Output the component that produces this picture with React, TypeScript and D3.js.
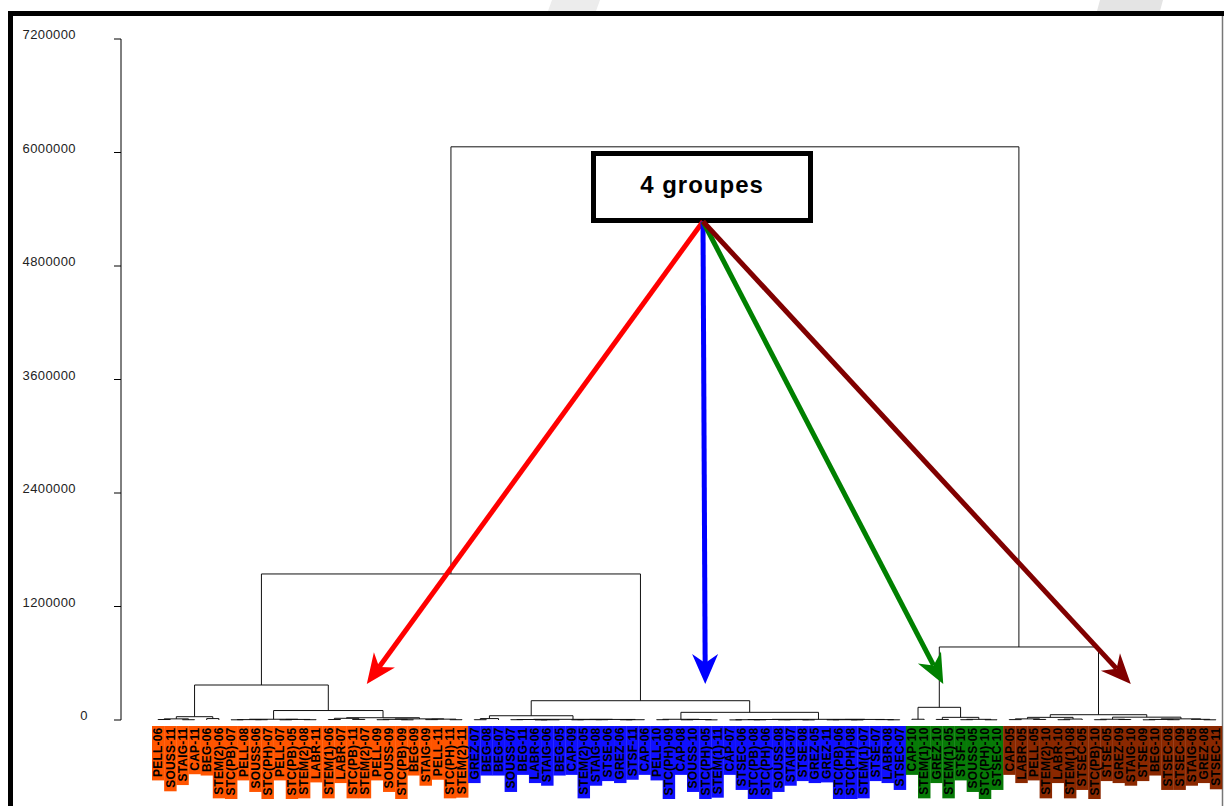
import React from "react";
import * as d3 from "d3";

// leaf names, left to right, one list per group
const orangeLeaves = [
  "PELL-06", "SOUSS-11", "STAIG-11", "CAP-11", "BEG-06", "STEM(2)-06", "STC(PB)-07",
  "PELL-08", "SOUSS-06", "STC(PH)-07", "PELL-07", "STC(PB)-05", "STEM(2)-08", "LABR-11",
  "STEM(1)-06", "LABR-07", "STC(PB)-11", "STEM(2)-07", "PELL-09", "SOUSS-09", "STC(PB)-09",
  "BEG-09", "STAIG-09", "PELL-11", "STC(PH)-11", "STEM(2)-11",
];
const blueLeaves = [
  "GREZ-07", "BEG-08", "BEG-07", "SOUSS-07", "BEG-11", "LABR-06", "STAIG-06", "BEG-05",
  "CAP-09", "STEM(2)-05", "STAIG-08", "STSE-06", "GREZ-06", "STSF-11", "CAP-06", "PELL-10",
  "STC(PH)-09", "CAP-08", "SOUSS-10", "STC(PH)-05", "STEM(1)-11", "CAP-07", "STSEC-06",
  "STC(PB)-08", "STC(PH)-06", "SOUSS-08", "STAIG-07", "STSE-08", "GREZ-05", "GREZ-11",
  "STC(PB)-06", "STC(PH)-08", "STEM(1)-07", "STSE-07", "LABR-08", "STSEC-07",
];
const greenLeaves = [
  "CAP-10", "STEM(1)-10", "GREZ-10", "STEM(1)-05", "STSF-10", "SOUSS-05", "STC(PH)-10", "STSEC-10",
];
const brownLeaves = [
  "CAP-05", "LABR-05", "PELL-05", "STEM(2)-10", "LABR-10", "STEM(1)-08", "STSEC-05",
  "STC(PB)-10", "STSE-05", "GREZ-09", "STAIG-10", "STSE-09", "BEG-10", "STSEC-08",
  "STSEC-09", "STAIG-05", "GREZ-08", "STSEC-11",
];

const groupFills = ["#ff5500", "#1010ff", "#077a07", "#8a2800"];

const yTicks = [0, 1200000, 2400000, 3600000, 4800000, 6000000, 7200000];

// merges: [height, left, right]; numbers index into the group's leaf list
const orangeMerges = [370000,
  [35000, [12000, [5000, 0, 1], [3000, 2, 3]], [15000, 4, 5]],
  [100000,
    [8000, [4000, [2000, 6, 7], [3000, 8, 9]], [6000, [2000, 10, 11], [3000, 12, 13]]],
    [24000, [18000, [5000, 14, 15], [6000, 16, 17]],
      [12000, [7000, [3000, 18, 19], [2000, 20, 21]], [9000, [4000, 22, 23], [3000, 24, 25]]]]]];
const blueMerges = [204000,
  [45000, [15000, [3000, 0, 1], 2],
    [7000, [5000, [3000, 3, 4], [2000, [1000, 5, 6], 7]],
      [6000, [4000, [2000, 8, 9], [3000, 10, 11]], [3000, [2000, 12, 13], 14]]]],
  [81000, [7500, [3000, 15, 16], [5000, [2000, 17, 18], [1500, 19, 20]]],
    [7000, [5000, [3000, [1000, 21, 22], [2000, 23, 24]], [4000, [2000, 25, 26], [1000, 27, 28]]],
      [6000, [3000, [2000, 29, 30], [1000, 31, 32]], [4000, 33, [2000, 34, 35]]]]]];
const greenMerges = [134000,
  [8000, 0, 1],
  [28000, [6000, 2, 3], [7000, [3000, 4, 5], [2000, 6, 7]]]];
const brownMerges = [56000,
  [28000, [12000, [4000, 0, 1], [6000, 2, 3]], [10000, [3000, 4, 5], 6]],
  [30000, [8000, [3000, 7, 8], [5000, 9, 10]],
    [12000, [6000, [2000, 11, 12], [3000, 13, 14]], [7000, 15, [2000, 16, 17]]]]];

// upper merges: root, orange+blue, green+brown
const upperHeights = [6060000, 1544000, 772000];

// arrows from the caption box to a leaf at a given height
const arrows = [
  { color: "#ff0000", leaf: "STEM(2)-07", value: 380000, dx: 2 },
  { color: "#0000ff", leaf: "STC(PH)-05", value: 380000, dx: 0 },
  { color: "#008000", leaf: "GREZ-10", value: 380000, dx: 7 },
  { color: "#800000", leaf: "STAIG-10", value: 380000, dx: 0 },
];

const W = 1225;
const H = 806;
const axisX = 121;
const labelTop = 726;
const LS = 0.2;
const labelFont = "bold 12px 'Liberation Sans', Arial, sans-serif";

const ctx = document.createElement("canvas").getContext("2d");
function textLen(s) {
  if (!ctx) return s.length * 7;
  ctx.font = labelFont;
  return ctx.measureText(s).width + s.length * LS;
}

function named(node, names) {
  return Array.isArray(node)
    ? [node[0], named(node[1], names), named(node[2], names)]
    : names[node];
}

const groups = [orangeLeaves, blueLeaves, greenLeaves, brownLeaves];
const allLeaves = groups.flat();
const tree = [upperHeights[0],
  [upperHeights[1], named(orangeMerges, orangeLeaves), named(blueMerges, blueLeaves)],
  [upperHeights[2], named(greenMerges, greenLeaves), named(brownMerges, brownLeaves)]];

export default function App() {
  const x = d3.scaleBand().domain(allLeaves).range([152, 1222]).padding(0);
  const y = d3.scaleLinear().domain([0, 7200000]).range([720, 39]);
  const bw = x.bandwidth();

  const root = d3.hierarchy(tree, (d) => (Array.isArray(d) ? d.slice(1) : null));
  root.eachAfter((n) => {
    if (!n.children) {
      n.px = x(n.data) + bw / 2;
      n.h = 0;
    } else {
      n.px = d3.mean(n.children, (c) => c.px);
      n.h = n.data[0];
    }
  });
  const links = root.descendants().filter((n) => n.children).map((n) => {
    const [a, b] = n.children;
    return `M${a.px},${y(a.h)}V${y(n.h)}H${b.px}V${y(b.h)}`;
  });

  const box = { x: 593.5, y: 153.5, w: 217, h: 67 };
  const ox = box.x + box.w / 2 + 1;
  const oy = box.y + box.h + 1;

  const arrowShapes = arrows.map((a) => {
    const tx = x(a.leaf) + bw / 2 + a.dx;
    const ty = y(a.value);
    const dx = tx - ox, dy = ty - oy;
    const len = Math.hypot(dx, dy);
    const ux = dx / len, uy = dy / len;
    const nx = -uy, ny = ux;
    const L = 30, Wd = 13, notch = 21;
    const bx = tx - ux * L, by = ty - uy * L;
    const head = [
      [tx, ty],
      [bx + nx * Wd, by + ny * Wd],
      [tx - ux * notch, ty - uy * notch],
      [bx - nx * Wd, by - ny * Wd],
    ];
    return { ...a, x1: tx - ux * notch, y1: ty - uy * notch, head };
  });

  return (
    <svg width={W} height={H} style={{ position: "absolute", left: 0, top: 0, background: "#fff" }}>
      <polygon points="1100,0 1163,0 1160,11 1097,11" fill="#e4e4e4" />
      <polygon points="552,0 600,0 596,11 548,11" fill="#ececec" />
      {/* frame */}
      <line x1={8} x2={1224} y1={13.5} y2={13.5} stroke="#000" strokeWidth={5} />
      <line x1={10.5} x2={10.5} y1={11} y2={H} stroke="#000" strokeWidth={5} />
      <line x1={1222.5} x2={1222.5} y1={16} y2={H} stroke="#777" strokeWidth={1.5} />

      {/* y axis */}
      <line x1={axisX} x2={axisX} y1={y(7200000)} y2={y(0)} stroke="#000" />
      {yTicks.map((t) => (
        <g key={t}>
          <line x1={axisX - 7} x2={axisX} y1={y(t)} y2={y(t)} stroke="#000" />
          <text x={t === 0 ? 88 : 76} y={y(t)} textAnchor="end" fontSize={13} letterSpacing={0.4}
            fontFamily="'Liberation Sans', Arial, sans-serif" fill="#222">
            {t}
          </text>
        </g>
      ))}

      {/* leaf labels */}
      {groups.map((g, gi) =>
        g.map((name) => (
          <rect key={name} x={x(name)} y={labelTop} width={bw + 0.3} height={textLen(name) + 5}
            fill={groupFills[gi]} />
        ))
      )}
      {allLeaves.map((name) => (
        <text key={name} transform={`translate(${x(name) + bw / 2},${labelTop + 1.5}) rotate(-90)`}
          textAnchor="end" dy="0.36em" fontSize={12} fontWeight="bold" letterSpacing={LS}
          fontFamily="'Liberation Sans', Arial, sans-serif" fill="#000">
          {name}
        </text>
      ))}

      {/* dendrogram */}
      <g fill="none" stroke="#111" strokeWidth={1}>
        {links.map((d, i) => <path key={i} d={d} />)}
      </g>

      {/* caption box */}
      <rect x={box.x} y={box.y} width={box.w} height={box.h} fill="#fff" stroke="#000" strokeWidth={5} />
      <text x={box.x + box.w / 2} y={box.y + 39} textAnchor="middle" fontSize={24} fontWeight="bold"
        letterSpacing={1} fontFamily="'Liberation Sans', Arial, sans-serif">
        4 groupes
      </text>

      {arrowShapes.map((a) => (
        <g key={a.color}>
          <line x1={ox} y1={oy} x2={a.x1} y2={a.y1} stroke={a.color} strokeWidth={5} />
          <polygon points={a.head.map((p) => p.join(",")).join(" ")} fill={a.color} />
        </g>
      ))}
    </svg>
  );
}
